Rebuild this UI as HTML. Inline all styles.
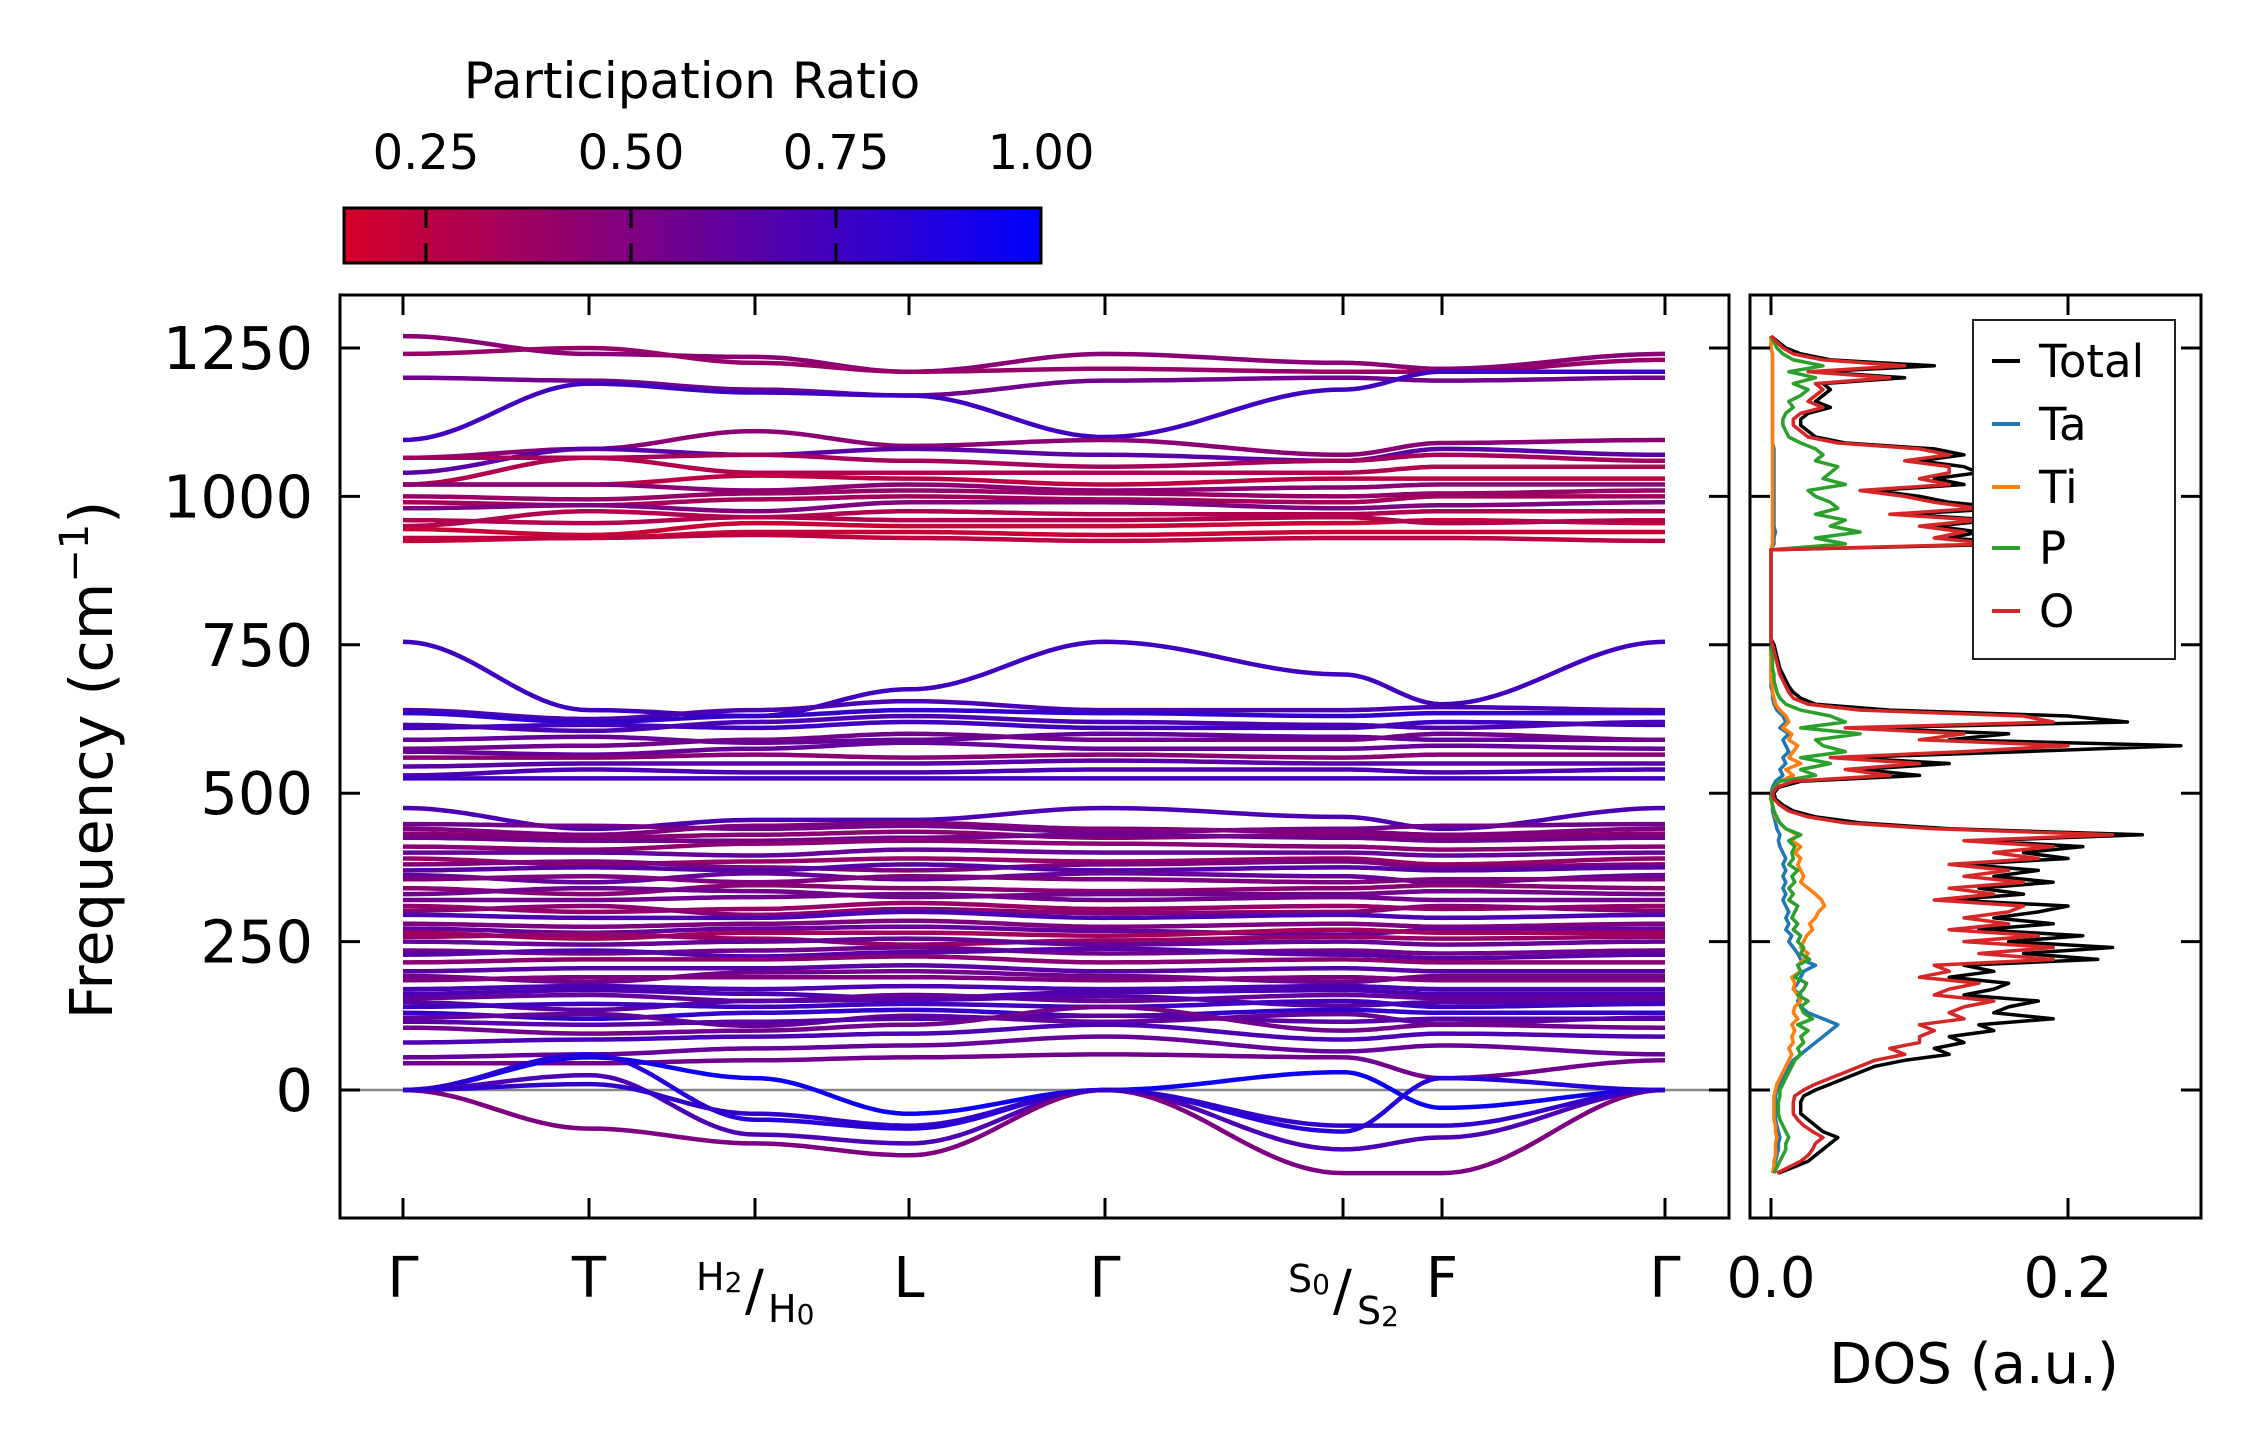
<!DOCTYPE html>
<html><head><meta charset="utf-8"><style>
html,body{margin:0;padding:0;background:#fff;}
svg{display:block;font-family:"DejaVu Sans","Liberation Sans",sans-serif;}
</style></head><body>
<svg id="fig" width="2259" height="1455" viewBox="0 0 2259 1455" xmlns="http://www.w3.org/2000/svg">
<defs>
<linearGradient id="cbgrad" x1="0" x2="1" y1="0" y2="0">
<stop offset="0" stop-color="rgb(214,0,40)"/><stop offset="1" stop-color="rgb(0,0,255)"/>
</linearGradient>
<clipPath id="mainclip"><rect x="340" y="295" width="1389" height="923"/></clipPath>
<clipPath id="dosclip"><rect x="1750" y="295" width="451" height="923"/></clipPath>
</defs>
<g>
<text x="692" y="98" font-size="50" text-anchor="middle">Participation Ratio</text>
<rect x="344" y="208" width="697" height="55" fill="url(#cbgrad)" stroke="#000" stroke-width="3"/>
<g id="cbticks"></g>
</g>
<g id="main">
<line x1="340" x2="1729" y1="1090" y2="1090" stroke="#888" stroke-width="2.5"/>
<g id="bands" clip-path="url(#mainclip)"></g>
<rect x="340" y="295" width="1389" height="923" fill="none" stroke="#000" stroke-width="3"/>
<g id="mainticks"></g>
<text transform="translate(112,760) rotate(-90)" font-size="59" text-anchor="middle">Frequency (cm<tspan font-size="40" dy="-24">−1</tspan><tspan dy="24">)</tspan></text>
<g>
<text x="696" y="1290" font-size="38">H<tspan font-size="28" dy="2">2</tspan></text>
<text x="745" y="1310" font-size="56">/</text>
<text x="768" y="1322" font-size="38">H<tspan font-size="28" dy="2">0</tspan></text>
</g>
<g>
<text x="1288" y="1292" font-size="38">S<tspan font-size="28" dy="2">0</tspan></text>
<text x="1333" y="1310" font-size="56">/</text>
<text x="1357" y="1324" font-size="38">S<tspan font-size="28" dy="2">2</tspan></text>
</g>
</g>
<g id="dos">
<g id="doslines" clip-path="url(#dosclip)"></g>
<rect x="1750" y="295" width="451" height="923" fill="none" stroke="#000" stroke-width="3"/>
<g id="dosticks"></g>
<text x="1974" y="1383" font-size="56" text-anchor="middle">DOS (a.u.)</text>
<g>
<rect x="1973" y="320" width="202" height="339" fill="#fff" stroke="#222" stroke-width="2"/>
<g id="legend"></g>
</g>
</g>
</svg>
<script>
const NS="http://www.w3.org/2000/svg";
const kLabels=["Γ","T","","L","Γ","","F","Γ"];
const kPos=[403,589,755,909,1105,1343,1442,1665];
const yTicks=[0,250,500,750,1000,1250];
const cbTicks=[0.25,0.5,0.75,1.0];
const cbTickLabels=["0.25","0.50","0.75","1.00"];
const bandFreqs=[
[1270,1240,1235,1210,1240,1225,1215,1240],
[1240,1250,1225,1210,1215,1210,1210,1230],
[1200,1195,1180,1170,1195,1200,1195,1200],
[1095,1190,1175,1170,1100,1180,1210,1210],
[1065,1080,1110,1085,1095,1070,1090,1095],
[1040,1080,1070,1080,1070,1060,1080,1070],
[1065,1065,1070,1060,1050,1060,1070,1060],
[1020,1065,1040,1040,1040,1040,1050,1050],
[1020,1020,1035,1030,1020,1030,1030,1030],
[1020,1020,1010,1020,1010,1015,1020,1020],
[990,985,995,1000,995,990,1000,1000],
[980,985,975,990,990,980,985,990],
[950,975,965,975,970,970,975,975],
[945,935,955,950,950,955,960,955],
[925,930,940,940,935,940,940,940],
[930,930,935,930,925,930,930,925],
[1000,995,1005,1010,1005,1000,1005,1010],
[960,955,965,960,960,965,955,960],
[755,640,630,675,755,700,650,755],
[640,625,640,655,640,640,645,640],
[635,620,630,640,635,630,635,635],
[610,615,610,620,610,610,620,615],
[615,605,620,630,620,615,610,620],
[590,595,585,590,600,595,590,590],
[575,580,590,600,590,590,600,590],
[570,565,575,585,575,575,580,575],
[560,560,565,560,565,560,565,565],
[545,550,550,550,555,550,550,550],
[530,540,535,535,540,540,535,540],
[525,525,525,525,525,525,525,525],
[475,440,455,455,475,460,440,475],
[448,445,440,445,435,440,445,448],
[440,430,445,450,440,435,430,440],
[432,425,430,435,425,430,425,432],
[425,420,420,425,430,425,420,425],
[410,405,415,420,415,410,405,410],
[400,400,395,405,400,400,395,400],
[390,380,385,390,385,390,380,390],
[380,385,375,370,380,385,375,380],
[370,375,370,380,370,375,370,375],
[362,350,365,355,365,360,350,362],
[355,360,350,360,355,350,355,355],
[340,330,345,340,335,340,345,340],
[330,340,335,325,330,330,335,330],
[320,320,325,330,320,325,320,320],
[310,300,305,315,305,310,305,310],
[302,310,295,305,298,300,310,302],
[295,290,290,300,290,295,290,295],
[280,275,280,285,275,280,275,280],
[272,265,272,275,268,262,270,272],
[265,255,265,265,260,270,265,265],
[258,262,255,245,252,258,255,258],
[250,245,250,255,245,250,245,250],
[235,230,235,240,230,235,230,235],
[228,235,225,232,238,228,222,228],
[215,220,220,225,215,220,215,215],
[200,205,205,210,200,205,200,200],
[192,182,198,200,192,182,192,192],
[185,190,190,190,185,190,185,185],
[170,175,170,175,170,175,170,170],
[162,168,162,155,165,168,162,162],
[155,160,150,160,150,160,155,155],
[148,135,150,152,158,142,148,148],
[140,145,140,145,140,150,140,145],
[130,120,130,135,125,135,130,130],
[122,128,108,125,115,128,112,122],
[115,110,115,120,125,115,120,120],
[105,95,100,110,140,100,110,105],
[80,85,90,95,110,85,95,90],
[55,60,70,75,90,65,75,60],
[45,45,50,55,60,55,20,50],
[0,55,20,-40,0,30,-30,0],
[0,60,-50,-65,0,-70,20,0],
[0,25,-75,-90,0,-100,-80,0],
[0,-65,-90,-110,0,-140,-140,0],
[0,10,-40,-60,0,-60,-60,0]
];
const bandPR=[0.45,0.4,0.55,0.75,0.45,0.65,0.35,0.3,0.25,0.45,0.35,0.5,0.3,0.2,0.2,0.25,0.4,0.3,
0.75,0.7,0.8,0.75,0.7,0.6,0.55,0.6,0.45,0.65,0.7,0.75,
0.7,0.55,0.5,0.45,0.55,0.45,0.6,0.4,0.5,0.65,0.6,0.5,0.45,0.55,0.55,0.4,0.45,0.7,0.5,0.6,0.35,0.4,0.6,0.55,0.65,0.45,0.65,0.55,0.5,0.7,0.7,0.6,0.65,0.75,0.8,0.6,0.65,0.55,0.7,0.6,0.55,
0.95,0.85,0.7,0.5,0.8];
const dosStart=-140, dosStep=10;
const dosTotal=[0.005,0.015,0.025,0.03,0.035,0.04,0.045,0.035,0.03,0.025,0.02,0.02,0.02,0.022,
0.03,0.04,0.05,0.06,0.07,0.09,0.12,0.11,0.13,0.12,0.15,0.14,0.19,0.15,0.16,0.18,0.13,0.15,0.16,0.12,0.15,0.13,0.22,0.17,0.23,0.16,0.21,0.14,0.19,0.15,0.18,0.2,0.12,0.17,0.14,0.19,0.15,0.18,0.13,0.2,0.17,0.21,0.14,0.25,0.12,0.06,0.03,0.015,0.008,0.003,
0.002,0.005,0.02,0.1,0.06,0.12,0.05,0.17,0.276,0.12,0.16,0.06,0.24,0.2,0.08,0.03,0.02,0.015,0.012,0.01,0.008,0.006,0.005,0.004,0.003,0.002,0,
0,0,0,0,0,0,0,0,0,0,0,0,0,0,0,
0.17,0.12,0.14,0.11,0.15,0.09,0.16,0.12,0.1,0.07,0.13,0.11,0.14,0.13,0.1,0.13,0.11,0.05,0.03,0.025,0.02,0.02,0.025,0.04,0.03,0.035,0.04,0.035,0.09,0.03,0.11,0.04,0.02,0.01,0.005,0];
const dosO=[0.004,0.012,0.02,0.025,0.028,0.03,0.035,0.028,0.022,0.018,0.015,0.015,0.015,0.016,
0.022,0.03,0.04,0.05,0.06,0.07,0.09,0.08,0.1,0.1,0.11,0.1,0.13,0.12,0.13,0.15,0.11,0.12,0.14,0.1,0.12,0.11,0.19,0.14,0.19,0.13,0.18,0.12,0.16,0.13,0.16,0.17,0.11,0.15,0.12,0.17,0.13,0.16,0.12,0.18,0.15,0.19,0.13,0.23,0.11,0.05,0.025,0.012,0.006,0.002,
0.001,0.004,0.015,0.08,0.05,0.1,0.04,0.13,0.2,0.1,0.13,0.05,0.19,0.17,0.06,0.025,0.015,0.012,0.01,0.008,0.006,0.005,0.004,0.003,0.002,0.001,0,
0,0,0,0,0,0,0,0,0,0,0,0,0,0,0,
0.15,0.11,0.13,0.1,0.14,0.08,0.14,0.11,0.09,0.06,0.12,0.1,0.12,0.12,0.09,0.12,0.1,0.045,0.025,0.02,0.015,0.015,0.02,0.035,0.025,0.03,0.035,0.03,0.08,0.025,0.09,0.035,0.015,0.008,0.004,0];
const dosP=[0.002,0.004,0.006,0.008,0.01,0.01,0.012,0.01,0.008,0.006,0.005,0.005,0.005,0.006,
0.006,0.008,0.01,0.012,0.014,0.016,0.02,0.018,0.022,0.02,0.025,0.018,0.028,0.022,0.02,0.025,0.018,0.022,0.024,0.016,0.02,0.018,0.026,0.02,0.022,0.018,0.02,0.015,0.018,0.014,0.016,0.018,0.012,0.015,0.012,0.016,0.014,0.018,0.012,0.015,0.014,0.016,0.012,0.02,0.01,0.006,0.004,0.002,0.001,0,
0,0.002,0.006,0.03,0.02,0.04,0.02,0.05,0.035,0.03,0.06,0.02,0.05,0.04,0.02,0.01,0.006,0.004,0.003,0.002,0.002,0.001,0.001,0.001,0,0,0,
0,0,0,0,0,0,0,0,0,0,0,0,0,0,0,
0.05,0.03,0.06,0.04,0.05,0.03,0.045,0.04,0.03,0.025,0.05,0.035,0.04,0.045,0.03,0.035,0.03,0.02,0.012,0.01,0.008,0.008,0.01,0.015,0.012,0.02,0.025,0.015,0.03,0.012,0.035,0.015,0.008,0.004,0.002,0];
const dosTa=[0.001,0.002,0.003,0.004,0.005,0.005,0.006,0.005,0.004,0.003,0.003,0.003,0.003,0.003,
0.004,0.006,0.008,0.01,0.012,0.015,0.02,0.025,0.03,0.035,0.04,0.045,0.035,0.025,0.02,0.018,0.02,0.015,0.018,0.02,0.022,0.03,0.02,0.018,0.015,0.012,0.014,0.01,0.012,0.01,0.012,0.01,0.008,0.01,0.008,0.01,0.008,0.01,0.008,0.01,0.008,0.006,0.005,0.006,0.004,0.003,0.002,0.001,0.001,0,
0,0.001,0.003,0.008,0.006,0.01,0.008,0.012,0.01,0.008,0.012,0.006,0.01,0.008,0.004,0.002,0.001,0.001,0,0,0,0,0,0,0,0,0,
0,0,0,0,0,0,0,0,0,0,0,0,0,0,0,
0.002,0.002,0.003,0.002,0.002,0.002,0.002,0.002,0.002,0.002,0.002,0.002,0.002,0.002,0.002,0.002,0.002,0.001,0.001,0.001,0.001,0.001,0.001,0.001,0.001,0.001,0.001,0.001,0.001,0.001,0.001,0.001,0.001,0,0,0];
const dosTi=[0.001,0.002,0.002,0.003,0.003,0.003,0.004,0.003,0.003,0.002,0.002,0.002,0.002,0.002,
0.003,0.004,0.006,0.008,0.01,0.012,0.014,0.012,0.015,0.014,0.016,0.014,0.018,0.015,0.016,0.02,0.018,0.015,0.016,0.014,0.02,0.018,0.022,0.025,0.02,0.022,0.024,0.028,0.026,0.03,0.032,0.036,0.034,0.03,0.025,0.02,0.022,0.02,0.018,0.02,0.016,0.02,0.014,0.018,0.01,0.006,0.003,0.002,0.001,0,
0,0.002,0.006,0.015,0.01,0.02,0.012,0.015,0.018,0.012,0.014,0.008,0.012,0.01,0.006,0.003,0.002,0.001,0.001,0,0,0,0,0,0,0,0,
0,0,0,0,0,0,0,0,0,0,0,0,0,0,0,
0.001,0.001,0.001,0.001,0.001,0.001,0.001,0.001,0.001,0.001,0.001,0.001,0.001,0.001,0.001,0.001,0.001,0.001,0.001,0.001,0.001,0.001,0.001,0.001,0.001,0.001,0.001,0.001,0.001,0.001,0.001,0.001,0.001,0,0,0];
const dosSeries=[["Total",dosTotal,"#000000"],["Ta",dosTa,"#1f77b4"],["Ti",dosTi,"#ff7f0e"],["P",dosP,"#2ca02c"],["O",dosO,"#d62728"]];
const dosTicks=[0.0,0.2];
function yF(f){return 1090-f*0.5936;}
function xDos(v){return 1771+v*1485;}
function xCb(v){return 344+(v-0.15)/0.85*697;}
function prColor(p){let t=(p-0.15)/0.85;t=Math.max(0,Math.min(1,t));return `rgb(${Math.round(214*(1-t))},0,${Math.round(40+215*t)})`;}
function mk(tag,attrs,parent){const e=document.createElementNS(NS,tag);for(const k in attrs)e.setAttribute(k,attrs[k]);parent.appendChild(e);return e;}
const cbG=document.getElementById("cbticks");
cbTicks.forEach((v,i)=>{const x=xCb(v);
 if(v<1){let t1=mk("line",{x1:x,x2:x,y1:208,y2:228,stroke:"#000","stroke-width":3},cbG);
 
 
 let t2=mk("line",{x1:x,x2:x,y1:243,y2:263,stroke:"#000","stroke-width":3},cbG);
 
 }
 let tl=mk("text",{x:x,y:169,"font-size":48,"text-anchor":"middle"},cbG);tl.textContent=cbTickLabels[i];
 
 
});
const bG=document.getElementById("bands");
bandFreqs.forEach((fr,bi)=>{
 let d="";
 for(let s=0;s<fr.length-1;s++){
  const N=24;
  for(let j=0;j<=N;j++){
   const u=j/N, w=(1-Math.cos(Math.PI*u))/2;
   const x=kPos[s]+(kPos[s+1]-kPos[s])*u;
   const f=fr[s]+(fr[s+1]-fr[s])*w;
   d+=(s===0&&j===0?"M":"L")+x.toFixed(1)+","+yF(f).toFixed(1);
  }
 }
 const p=mk("path",{d:d,fill:"none",stroke:prColor(bandPR[bi]),"stroke-width":4.5,"stroke-linejoin":"round"},bG);
 
 
});
const mT=document.getElementById("mainticks");
yTicks.forEach(v=>{const y=yF(v);
 let a=mk("line",{x1:340,x2:360,y1:y,y2:y,stroke:"#000","stroke-width":3},mT);
 
 
 let b=mk("line",{x1:1709,x2:1729,y1:y,y2:y,stroke:"#000","stroke-width":3},mT);
 
 
 let t=mk("text",{x:313,y:y+21,"font-size":59,"text-anchor":"end"},mT);t.textContent=String(v);
 
 
});
kPos.forEach((x,i)=>{
 let a=mk("line",{x1:x,x2:x,y1:1198,y2:1218,stroke:"#000","stroke-width":3},mT);
 
 
 let b=mk("line",{x1:x,x2:x,y1:295,y2:315,stroke:"#000","stroke-width":3},mT);
 
 
 if(kLabels[i]){let t=mk("text",{x:x,y:1297,"font-size":56,"text-anchor":"middle"},mT);t.textContent=kLabels[i];
 
 }
});
const dG=document.getElementById("doslines");
dosSeries.forEach(s=>{
 let pts=s[1].map((v,i)=>xDos(v).toFixed(1)+","+yF(dosStart+i*dosStep).toFixed(1)).join(" ");
 const pl=mk("polyline",{points:pts,fill:"none",stroke:s[2],"stroke-width":3.5,"stroke-linejoin":"round"},dG);
 
 
});
const dT=document.getElementById("dosticks");
yTicks.forEach(v=>{const y=yF(v);
 let a=mk("line",{x1:1750,x2:1770,y1:y,y2:y,stroke:"#000","stroke-width":3},dT);
 
 
 let b=mk("line",{x1:2181,x2:2201,y1:y,y2:y,stroke:"#000","stroke-width":3},dT);
 
 
});
dosTicks.forEach(v=>{const x=xDos(v);
 let a=mk("line",{x1:x,x2:x,y1:1198,y2:1218,stroke:"#000","stroke-width":3},dT);
 
 
 let b=mk("line",{x1:x,x2:x,y1:295,y2:315,stroke:"#000","stroke-width":3},dT);
 
 
 let t=mk("text",{x:x,y:1297,"font-size":56,"text-anchor":"middle"},dT);t.textContent=v.toFixed(1);
 
 
});
const lG=document.getElementById("legend");
const legY=[361,424,487,548,611];
dosSeries.forEach((s,i)=>{
 let l=mk("line",{x1:1992,x2:2020,y1:legY[i],y2:legY[i],stroke:s[2],"stroke-width":4},lG);
 
 
 let t=mk("text",{x:2039,y:legY[i]+16,"font-size":45},lG);t.textContent=s[0];
 
 
});
</script>
</body></html>
